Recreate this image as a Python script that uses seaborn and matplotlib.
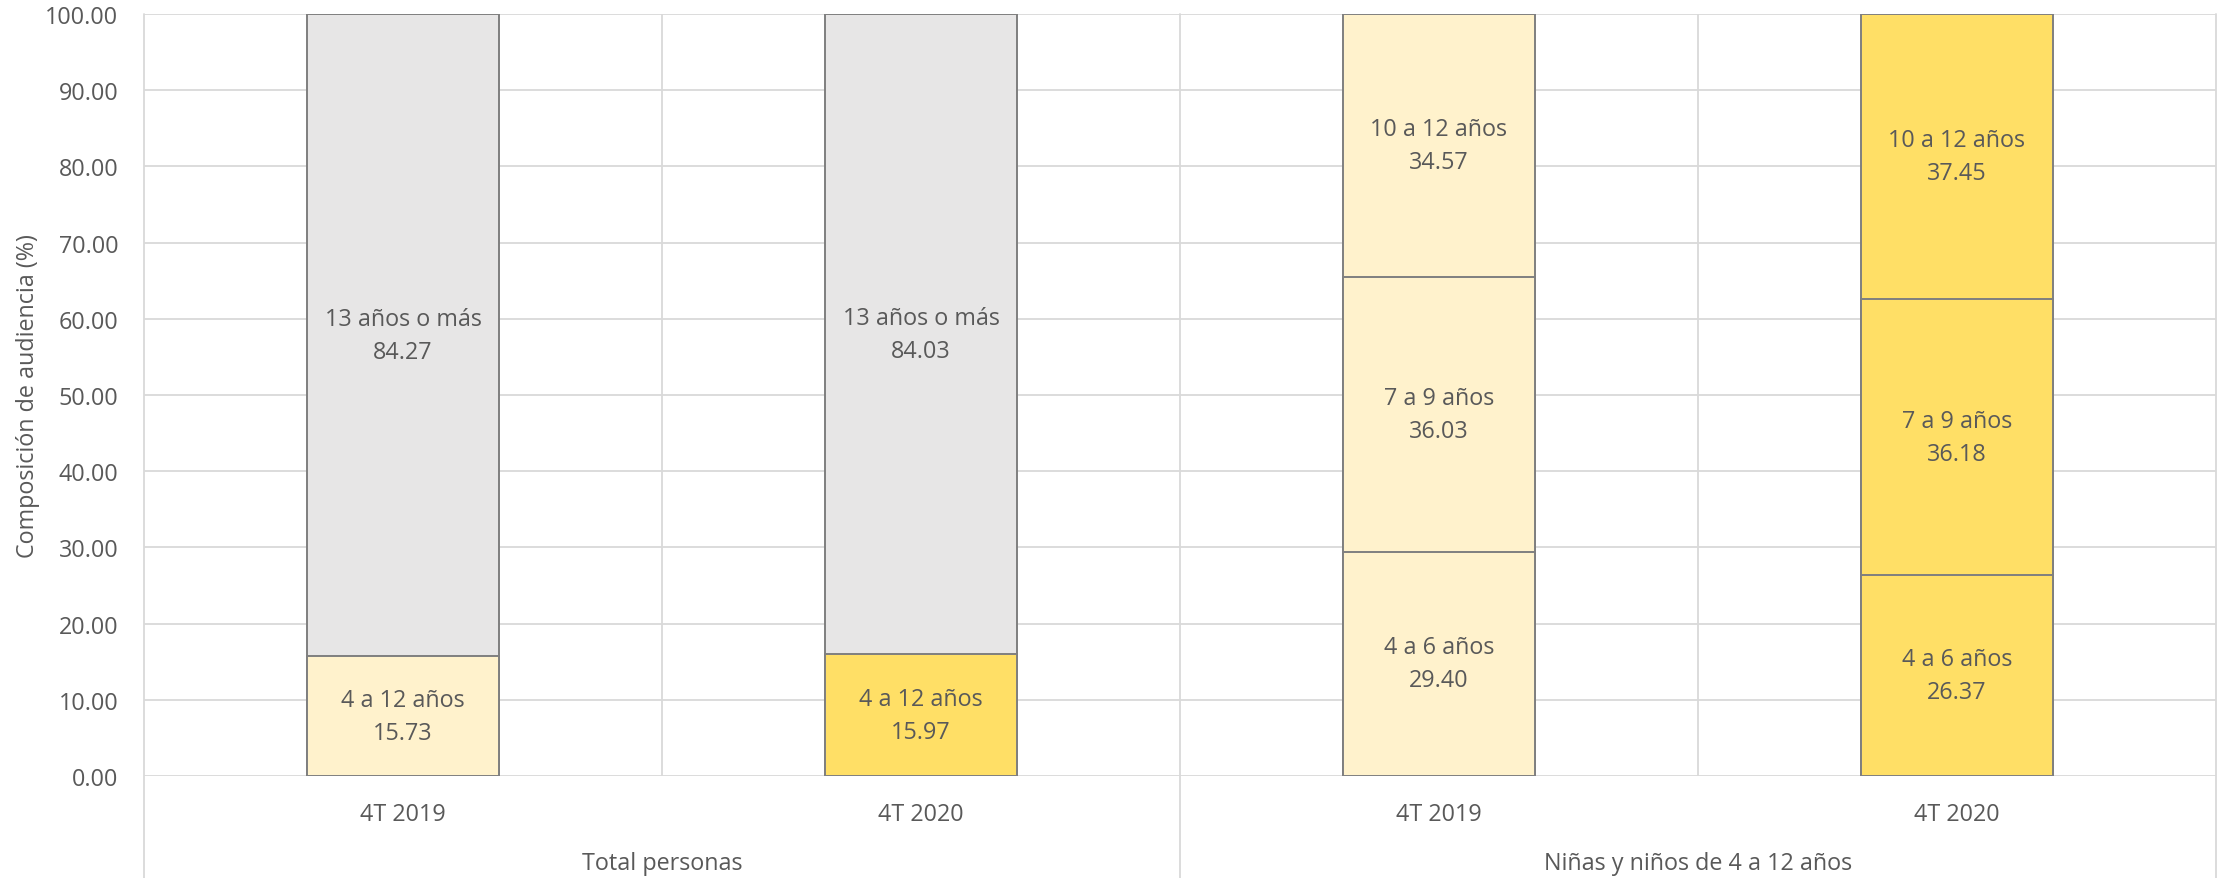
import matplotlib
matplotlib.use("Agg")
import matplotlib.pyplot as plt
import matplotlib.transforms as mtransforms
import seaborn as sns
import pandas as pd
import numpy as np

# ---------------- data ----------------
bar_ids = ["TP 2019", "TP 2020", "NN 2019", "NN 2020"]
periods = ["4T 2019", "4T 2020", "4T 2019", "4T 2020"]
group_names = ["Total personas", "Niñas y niños de 4 a 12 años"]

seg_total_labels = ["4 a 12 años", "13 años o más"]
seg_total_2019 = [15.73, 84.27]
seg_total_2020 = [15.97, 84.03]

seg_kids_labels = ["4 a 6 años", "7 a 9 años", "10 a 12 años"]
seg_kids_2019 = [29.40, 36.03, 34.57]
seg_kids_2020 = [26.37, 36.18, 37.45]

yticks = list(range(0, 101, 10))

# ---------------- style ----------------
C_LIGHT = "#FFF2CC"
C_GOLD = "#FFDF66"
C_GRAY = "#E7E6E6"
EDGE = "#7F7F7F"
GRID = "#D9D9D9"
TXT = "#595959"

seg_colors = {
    "TP 2019": [C_LIGHT, C_GRAY],
    "TP 2020": [C_GOLD, C_GRAY],
    "NN 2019": [C_LIGHT, C_LIGHT, C_LIGHT],
    "NN 2020": [C_GOLD, C_GOLD, C_GOLD],
}
seg_values = {
    "TP 2019": (seg_total_labels, seg_total_2019),
    "TP 2020": (seg_total_labels, seg_total_2020),
    "NN 2019": (seg_kids_labels, seg_kids_2019),
    "NN 2020": (seg_kids_labels, seg_kids_2020),
}

rows = []
for b in bar_ids:
    labels, vals = seg_values[b]
    bottom = 0.0
    for k, (lab, v) in enumerate(zip(labels, vals)):
        rows.append(dict(bar=b, seg=k, label=lab, value=v, bottom=bottom,
                         top=bottom + v, key=f"{b}|{k}", color=seg_colors[b][k]))
        bottom += v
df = pd.DataFrame(rows)

sns.set_theme(style="white")
plt.rcParams["font.family"] = ["Open Sans", "DejaVu Sans"]
FS = 16.8

fig = plt.figure(figsize=(22.26, 8.79), dpi=100)
ax = fig.add_axes([144 / 2226, 1 - 777 / 879, (2216 - 144) / 2226, (777 - 15) / 879])

# draw stacked bars as overlapping cumulative layers (top first)
for k in sorted(df["seg"].unique(), reverse=True):
    d = df[df["seg"] == k]
    pal = dict(zip(d["key"], d["color"]))
    sns.barplot(data=d, x="bar", y="top", order=bar_ids, hue="key", palette=pal,
                dodge=False, width=0.37, edgecolor=EDGE, linewidth=1.4,
                saturation=1, errorbar=None, legend=False, ax=ax, zorder=3)

# segment labels
for _, r in df.iterrows():
    xi = bar_ids.index(r["bar"])
    ax.text(xi, r["bottom"] + r["value"] / 2, f"{r['label']}\n{r['value']:.2f}",
            ha="center", va="center", fontsize=FS, color=TXT, linespacing=1.5, zorder=5)

ax.set_xlim(-0.5, 3.5)
ax.set_ylim(0, 100)
ax.set_yticks(yticks)
ax.set_yticklabels([f"{v:.2f}" for v in yticks])
ax.set_xticks(range(len(bar_ids)))
ax.set_xticklabels(periods)
ax.tick_params(axis="both", length=0, labelsize=FS, labelcolor=TXT)
ax.tick_params(axis="y", pad=18.5)
ax.tick_params(axis="x", pad=19)
ax.set_xlabel("")
ax.set_ylabel("Composición de audiencia (%)", fontsize=FS, color=TXT, labelpad=4)

for s in ax.spines.values():
    s.set_visible(False)

ax.set_axisbelow(True)
ax.yaxis.grid(True, color=GRID, linewidth=1.3, zorder=0)
ax.xaxis.grid(False)

# vertical category separators
for xv in [0.5, 2.5]:
    ax.axvline(xv, color=GRID, linewidth=1.3, zorder=0)
ext = -(879 - 777) / (777 - 15)
for xv in [-0.5, 1.5, 3.5]:
    ax.axvline(xv, ymin=ext, ymax=1, color=GRID, linewidth=1.3, zorder=0, clip_on=False)

# group labels
trans = mtransforms.blended_transform_factory(ax.transData, ax.transAxes)
gy = -(864 - 777) / (777 - 15)
ax.text(0.5, gy, group_names[0], transform=trans, ha="center", va="center",
        fontsize=FS, color=TXT)
ax.text(2.5, gy, group_names[1], transform=trans, ha="center", va="center",
        fontsize=FS, color=TXT)

fig.savefig("out.png", dpi=100)
